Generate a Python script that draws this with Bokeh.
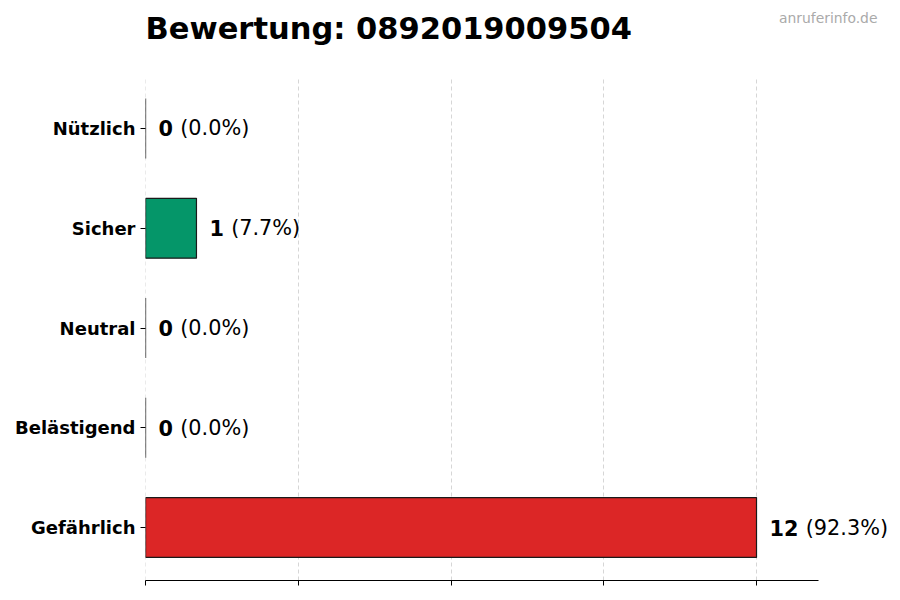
from bokeh.plotting import figure
from bokeh.models import Range1d, Label, ColumnDataSource, FixedTicker
from bokeh.core.properties import value
from bokeh.embed import file_html
from bokeh.resources import INLINE

# ---- data ----
categories = ["Nützlich", "Sicher", "Neutral", "Belästigend", "Gefährlich"]
counts = [0, 1, 0, 0, 12]
bar_colors = ["#16a34a", "#059669", "#9ca3af", "#f59e0b", "#dc2626"]
x_ticks = [0, 3, 6, 9, 12]
title_text = "Bewertung: 0892019009504"
watermark = "anruferinfo.de"

total = sum(counts)
n = len(categories)
ypos = [n - 1 - i for i in range(n)]
num_txt = [str(c) for c in counts]
pct_txt = ["(%.1f%%)" % (c / total * 100) for c in counts]

FONT = "DejaVu Sans"
BASE_OFF = 13
DIGIT_W = 14.5
SPACE_W = 7.2
off2 = [BASE_OFF + len(s) * DIGIT_W + SPACE_W for s in num_txt]

src = ColumnDataSource(dict(y=ypos, v=counts, c=bar_colors, num=num_txt, pct=pct_txt, off2=off2))

Y_LO, Y_HI_AX = -0.531, 4.52      # visible extent of the axes area
X_HI_AX = 13.22

p = figure(width=900, height=600, output_backend="svg", toolbar_location=None,
           x_range=Range1d(-0.001, 14.828), y_range=Range1d(Y_LO, 5.283),
           min_border_left=145, min_border_right=0, min_border_top=0, min_border_bottom=20)
p.outline_line_color = None
p.background_fill_color = "white"
p.border_fill_color = "white"

p.hbar(y="y", left=0, right="v", height=0.6, source=src, fill_color="c",
       line_color="#1a1a1a", line_width=1.2)

p.text(x="v", y="y", text="num", source=src, x_offset=BASE_OFF, text_baseline="middle",
       text_align="left", text_font=value(FONT), text_font_style="bold",
       text_font_size="20.8px", text_color="black")
p.text(x="v", y="y", text="pct", source=src, x_offset="off2", text_baseline="middle",
       text_align="left", text_font=value(FONT), text_font_style="normal",
       text_font_size="20.8px", text_color="black")

# axes
p.xaxis.ticker = FixedTicker(ticks=x_ticks)
p.xaxis.bounds = (0, X_HI_AX)
p.xaxis.major_label_overrides = {t: "" for t in x_ticks}
p.xaxis.major_label_standoff = 0
p.xaxis.major_tick_out = 5
p.xaxis.major_tick_in = 0
p.xaxis.minor_tick_line_color = None
p.xaxis.axis_line_color = "black"
p.xaxis.axis_line_width = 1.2
p.xaxis.major_tick_line_color = "black"

p.yaxis.ticker = FixedTicker(ticks=ypos)
p.yaxis.bounds = (Y_LO, Y_HI_AX)
p.yaxis.major_label_overrides = {y: cat for y, cat in zip(ypos, categories)}
p.yaxis.major_label_text_font = FONT
p.yaxis.major_label_text_font_style = "bold"
p.yaxis.major_label_text_font_size = "18px"
p.yaxis.major_label_text_color = "black"
p.yaxis.major_label_standoff = 5
p.yaxis.axis_line_color = None
p.yaxis.major_tick_out = 5
p.yaxis.major_tick_in = 0
p.yaxis.minor_tick_line_color = None

p.xgrid.ticker = FixedTicker(ticks=x_ticks)
p.xgrid.cross_bounds = (Y_LO, Y_HI_AX)
p.xgrid.grid_line_color = "#cccccc"
p.xgrid.grid_line_dash = "4 3"
p.xgrid.grid_line_width = 0.8
p.ygrid.grid_line_color = None

p.add_layout(Label(x=0, y=5.002, text=title_text, text_font=FONT, text_font_style="bold",
                   text_font_size="30.5px", text_baseline="alphabetic", text_align="left",
                   text_color="black"))
p.add_layout(Label(x=14.376, y=5.108, text=watermark, text_font=FONT,
                   text_font_size="13.9px", text_baseline="alphabetic", text_align="right",
                   text_color="#aaaaaa"))

open("out.html", "w").write(file_html(p, INLINE))
